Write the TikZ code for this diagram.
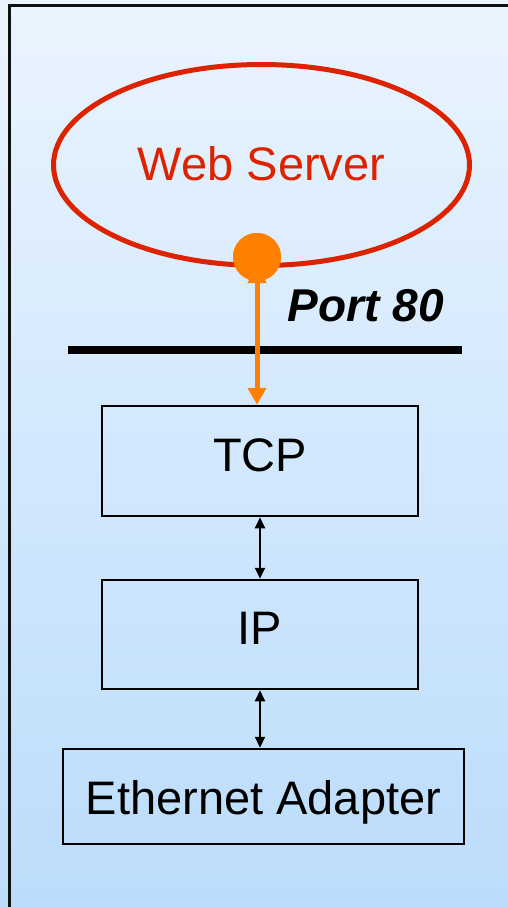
\documentclass[tikz,border=0pt]{standalone}
\usepackage{fontspec}
\setmainfont{Liberation Sans}
\usetikzlibrary{arrows.meta,shapes.geometric}
\definecolor{bgtop}{HTML}{EAF4FE}
\definecolor{bgbottom}{HTML}{BBDCFB}
\definecolor{serverred}{HTML}{DD2200}
\definecolor{portorange}{HTML}{FF8000}
\definecolor{framegray}{HTML}{101010}
\tikzset{
  layerbox/.style={draw=black, line width=2.5pt, inner xsep=0pt, inner ysep=0pt,
    anchor=base, font=\fontsize{47pt}{56pt}\selectfont},
  linkarrow/.style={line width=2pt, {Triangle[length=11pt,width=10pt]}-{Triangle[length=11pt,width=10pt]}},
  portarrow/.style={draw=portorange, line width=5pt,
    {Triangle[length=17pt,width=18pt]}-{Triangle[length=17pt,width=18pt]}},
}
\begin{document}
\begin{tikzpicture}[x=1pt,y=-1pt]
  \useasboundingbox (0,0) rectangle (508,907);
  % background and frame
  \shade[top color=bgtop, bottom color=bgbottom] (0,0) rectangle (508,907);
  \draw[framegray, line width=3pt] (9,920) -- (9,5.5) -- (520,5.5);

  % server process
  \node[ellipse, draw=serverred, line width=5pt, minimum width=416pt, minimum height=201pt,
        text=serverred, font=\fontsize{47pt}{56pt}\selectfont,
        text height=34pt, text depth=4pt, inner sep=0pt] (server) at (261.5,165) {Web Server};

  % protocol stack
  \node[layerbox, minimum width=316pt, text height=65pt, text depth=45pt] (tcp) at (260,471) {TCP};
  \node[layerbox, minimum width=316pt, text height=64pt, text depth=45pt] (ip) at (260,644) {IP};
  \node[layerbox, minimum width=401pt, text height=65pt, text depth=30pt] (eth) at (263.5,814) {Ethernet Adapter};

  % socket boundary
  \draw[black, line width=8pt] (68,350) -- (462,350);
  \node[anchor=base east, font=\fontsize{46pt}{55pt}\selectfont\bfseries\itshape, inner sep=0pt]
    (portlabel) at (444,321.5) {Port 80};

  % port connection
  \node[circle, fill=portorange, minimum size=48pt, inner sep=0pt] (port) at (257,257) {};
  \draw[portarrow] ([yshift=-9pt]port.center) -- (port.center |- tcp.north);
  \fill[portorange] (port) circle (24pt);

  % links between layers
  \draw[linkarrow] (tcp.south) -- (ip.north);
  \draw[linkarrow] (ip.south) -- (ip.south |- eth.north);
\end{tikzpicture}
\end{document}
